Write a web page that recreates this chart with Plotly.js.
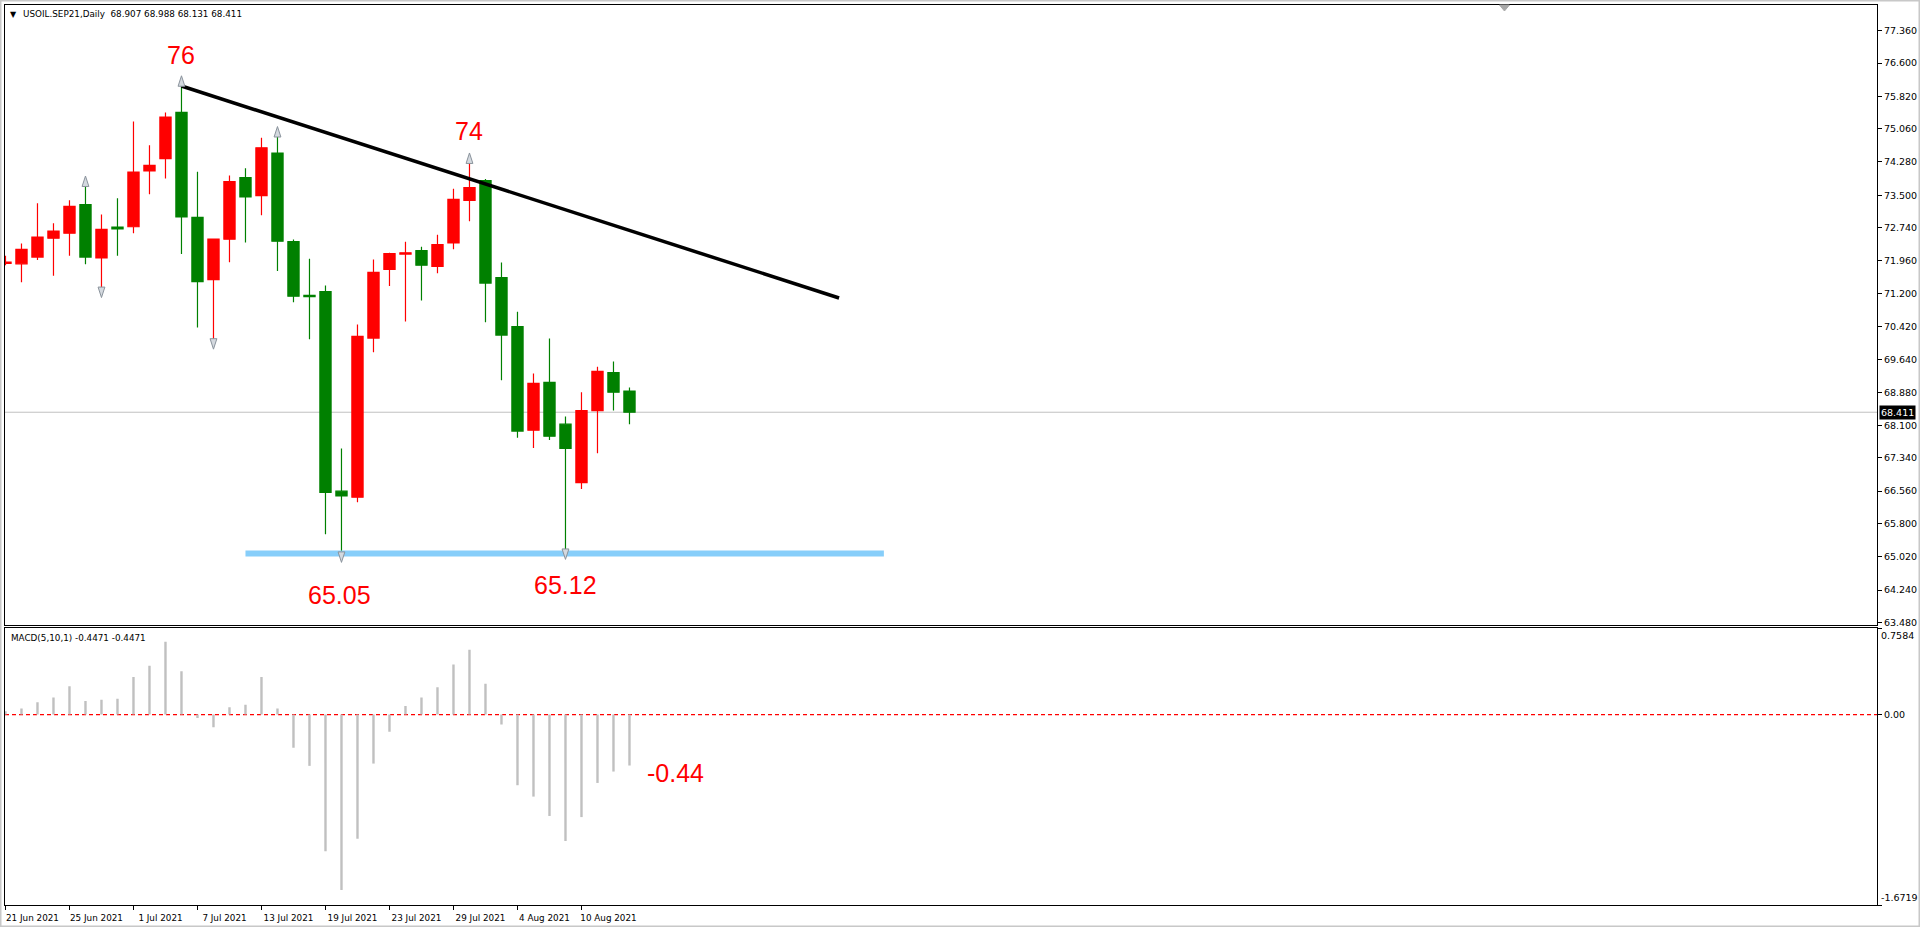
<!DOCTYPE html>
<html>
<head>
<meta charset="utf-8">
<script src="https://cdn.plot.ly/plotly-3.0.1.min.js"></script>
<style>
html,body{margin:0;padding:0;background:#ffffff;}
#chart{width:1920px;height:927px;}
</style>
</head>
<body>
<div id="chart"></div>
<script>
// ---------- data ----------
const dates = ['2021-06-21','2021-06-22','2021-06-23','2021-06-24','2021-06-25','2021-06-28','2021-06-29','2021-06-30',
  '2021-07-01','2021-07-02','2021-07-05','2021-07-06','2021-07-07','2021-07-08','2021-07-09','2021-07-12','2021-07-13',
  '2021-07-14','2021-07-15','2021-07-16','2021-07-19','2021-07-20','2021-07-21','2021-07-22','2021-07-23','2021-07-26',
  '2021-07-27','2021-07-28','2021-07-29','2021-07-30','2021-08-02','2021-08-03','2021-08-04','2021-08-05','2021-08-06',
  '2021-08-09','2021-08-10','2021-08-11','2021-08-12','2021-08-13'];
const opens  = [71.90,71.89,72.05,72.49,72.61,73.28,72.03,72.75,72.76,74.07,74.36,75.44,72.98,71.52,72.47,73.91,73.49,
  74.49,72.41,71.15,71.24,66.56,66.42,70.15,71.76,72.12,72.20,71.83,72.38,73.38,73.84,71.57,70.42,67.99,69.11,68.13,
  66.76,68.45,69.34,68.907];
const highs  = [72.08,72.37,73.31,72.84,73.38,73.71,73.05,73.43,75.23,74.67,75.44,76.06,74.05,72.48,73.96,74.13,74.85,
  74.87,72.46,72.01,71.38,67.56,70.47,71.99,72.15,72.41,72.29,72.57,73.65,74.25,73.88,71.92,70.77,69.32,70.14,68.31,
  68.88,69.48,69.60,68.988];
const lows   = [71.86,71.46,71.98,71.61,72.08,71.88,71.26,72.08,72.61,73.52,73.89,72.12,70.40,70.05,71.93,72.39,73.03,
  71.72,70.99,70.12,65.55,65.05,66.30,69.82,71.37,70.54,71.03,71.67,72.23,72.89,70.52,69.16,67.81,67.57,67.76,65.12,
  66.61,67.45,68.45,68.131];
const closes = [71.93,72.23,72.52,72.66,73.24,72.05,72.70,72.71,74.04,74.20,75.33,72.99,71.47,72.47,73.82,73.46,74.61,
  72.42,71.13,71.12,66.53,66.45,70.19,71.69,72.13,72.15,71.86,72.34,73.40,73.68,71.44,70.22,67.97,69.09,67.85,67.56,
  68.45,69.37,68.88,68.411];
const macd   = [0.03,0.054,0.108,0.15,0.25,0.12,0.13,0.14,0.33,0.43,0.64,0.38,-0.03,-0.11,0.065,0.086,0.33,0.054,-0.29,
  -0.45,-1.20,-1.54,-1.09,-0.43,-0.15,0.076,0.15,0.24,0.44,0.57,0.27,-0.086,-0.62,-0.72,-0.89,-1.11,-0.90,-0.60,-0.50,-0.4471];

const dateTickIndex  = [0,4,8,12,16,20,24,28,32,36];
const dateTickLabels = ['21 Jun 2021','25 Jun 2021','1 Jul 2021','7 Jul 2021','13 Jul 2021','19 Jul 2021',
  '23 Jul 2021','29 Jul 2021','4 Aug 2021','10 Aug 2021'];
const priceTicks = [77.36,76.6,75.82,75.06,74.28,73.5,72.74,71.96,71.2,70.42,69.64,68.88,68.1,67.34,66.56,65.8,65.02,64.24,63.48];
const macdMax = 0.7584, macdMin = -1.6719;

const trendX = [11, 52.1];
const trendY = [76.06, 71.09];
const supportX = [15.0, 54.9];
const supportY = [65.10, 65.10];
const fractalUpIdx = [5, 11, 17, 29];
const fractalDownIdx = [6, 13, 21, 35];
const lastPrice = 68.411;
const headerText = 'USOIL.SEP21,Daily  68.907 68.988 68.131 68.411';
const macdText = 'MACD(5,10,1) -0.4471 -0.4471';

// ---------- build ----------
const idx = dates.map((d, i) => i);
const axisFont = {family: 'DejaVu Sans, Tahoma, sans-serif', size: 9.5, color: '#000000'};
const smallFont = {family: 'DejaVu Sans, Tahoma, sans-serif', size: 8.8, color: '#000000'};
const redFont = {family: 'Liberation Sans, Arial, sans-serif', size: 25, color: '#ff0000'};

const traces = [
  {
    type: 'candlestick', x: idx, open: opens, high: highs, low: lows, close: closes,
    xaxis: 'x', yaxis: 'y', whiskerwidth: 0, hoverinfo: 'none', showlegend: false,
    increasing: {line: {color: '#ff0000', width: 1.2}, fillcolor: '#ff0000'},
    decreasing: {line: {color: '#008000', width: 1.2}, fillcolor: '#008000'}
  },
  {
    type: 'scatter', mode: 'lines', x: trendX, y: trendY, xaxis: 'x', yaxis: 'y',
    line: {color: '#000000', width: 3.5}, hoverinfo: 'none', showlegend: false
  },
  {
    type: 'scatter', mode: 'lines', x: supportX, y: supportY, xaxis: 'x', yaxis: 'y',
    line: {color: '#87cefa', width: 6}, hoverinfo: 'none', showlegend: false
  },
  {
    type: 'scatter', mode: 'markers', x: fractalUpIdx, y: fractalUpIdx.map(i => highs[i] + 0.24),
    xaxis: 'x', yaxis: 'y', hoverinfo: 'none', showlegend: false,
    marker: {symbol: 'arrow', angle: 0, size: 11, color: '#d4d9df', line: {color: '#8a939c', width: 1}}
  },
  {
    type: 'scatter', mode: 'markers', x: fractalDownIdx, y: fractalDownIdx.map(i => lows[i] - 0.16),
    xaxis: 'x', yaxis: 'y', hoverinfo: 'none', showlegend: false,
    marker: {symbol: 'arrow', angle: 180, size: 11, color: '#d4d9df', line: {color: '#8a939c', width: 1}}
  },
  {
    type: 'bar', x: idx, y: macd, xaxis: 'x2', yaxis: 'y2', width: 0.15,
    marker: {color: '#c0c0c0', line: {width: 0}}, hoverinfo: 'none', showlegend: false
  }
];

const xRange = [-0.03, 116.97];
const layout = {
  width: 1920, height: 927,
  margin: {l: 5, r: 43, t: 5, b: 22},
  paper_bgcolor: '#ffffff', plot_bgcolor: '#ffffff',
  showlegend: false,
  boxgap: 0.3, boxgroupgap: 0,
  xaxis: {
    domain: [0, 1], anchor: 'y', range: xRange, type: 'linear',
    showgrid: false, zeroline: false, showticklabels: false, ticks: '',
    showline: true, mirror: true, linecolor: '#000000', linewidth: 1,
    rangeslider: {visible: false}, fixedrange: true
  },
  yaxis: {
    domain: [0.3115, 1], anchor: 'x', side: 'right', range: [63.43, 77.96],
    tickvals: priceTicks, ticktext: priceTicks.map(v => v.toFixed(3)),
    ticks: 'outside', ticklen: 4, tickcolor: '#000000', tickfont: axisFont,
    showgrid: false, zeroline: false,
    showline: true, mirror: true, linecolor: '#000000', linewidth: 1, fixedrange: true
  },
  xaxis2: {
    domain: [0, 1], anchor: 'y2', range: xRange, type: 'linear',
    tickvals: dateTickIndex, ticktext: dateTickLabels,
    ticks: 'outside', ticklen: 4, tickcolor: '#000000', tickfont: smallFont,
    ticklabelshift: 27, ticklabelstandoff: 0,
    showgrid: false, zeroline: false,
    showline: true, mirror: true, linecolor: '#000000', linewidth: 1, fixedrange: true
  },
  yaxis2: {
    domain: [0, 0.3075], anchor: 'x2', side: 'right', range: [macdMin, macdMax],
    tickvals: [macdMax, 0, macdMin], ticktext: ['', '0.00', ''],
    ticks: 'outside', ticklen: 4, tickcolor: '#000000', tickfont: axisFont,
    showgrid: false, zeroline: false,
    showline: true, mirror: true, linecolor: '#000000', linewidth: 1, fixedrange: true
  },
  shapes: [
    {type: 'line', xref: 'x domain', yref: 'y', x0: 0, x1: 1, y0: lastPrice, y1: lastPrice,
     line: {color: '#c0c0c0', width: 1}, layer: 'below'},
    {type: 'line', xref: 'x2 domain', yref: 'y2', x0: 0, x1: 1, y0: 0, y1: 0,
     line: {color: '#ff0000', width: 1.2, dash: '4px,3px'}, layer: 'below'},
    {type: 'rect', xref: 'paper', yref: 'paper', x0: -5/1872, x1: 1915/1872, y0: -22/900, y1: 905/900,
     line: {color: '#c8c8c8', width: 3}, fillcolor: 'rgba(0,0,0,0)'},
    {type: 'path', xref: 'paper', yref: 'paper', xsizemode: 'pixel', ysizemode: 'pixel',
     xanchor: 0.801, yanchor: 1, path: 'M-5,0 L5,0 L0,-6 Z',
     fillcolor: '#a9a9a9', line: {color: '#a9a9a9', width: 1}}
  ],
  annotations: [
    {xref: 'paper', yref: 'paper', x: 0, y: 1, xshift: 3, yshift: -3, xanchor: 'left', yanchor: 'top',
     text: '▼', showarrow: false, font: {family: 'DejaVu Sans, sans-serif', size: 8, color: '#000000'}},
    {xref: 'paper', yref: 'paper', x: 0, y: 1, xshift: 16, yshift: -2, xanchor: 'left', yanchor: 'top',
     text: headerText, showarrow: false, font: smallFont},
    {xref: 'paper', yref: 'y2', x: 0, y: macdMax, xshift: 4, yshift: -3, xanchor: 'left', yanchor: 'top',
     text: macdText, showarrow: false, font: smallFont},
    {xref: 'paper', yref: 'y', x: 1, y: lastPrice, xshift: 2, xanchor: 'left', yanchor: 'middle',
     text: lastPrice.toFixed(3), showarrow: false, bgcolor: '#000000', borderpad: 1,
     font: {family: 'DejaVu Sans, Tahoma, sans-serif', size: 9.5, color: '#ffffff'}},
    {xref: 'paper', yref: 'y2', x: 1, y: macdMax, xshift: 2, xanchor: 'left', yanchor: 'top',
     text: macdMax.toFixed(4), showarrow: false, font: axisFont},
    {xref: 'paper', yref: 'y2', x: 1, y: macdMin, xshift: 2, xanchor: 'left', yanchor: 'bottom',
     text: macdMin.toFixed(4), showarrow: false, font: axisFont},
    {xref: 'x', yref: 'y', x: 11.0, y: 76.79, text: '76', showarrow: false, font: redFont},
    {xref: 'x', yref: 'y', x: 29.0, y: 75.01, text: '74', showarrow: false, font: redFont},
    {xref: 'x', yref: 'y', x: 20.9, y: 64.12, text: '65.05', showarrow: false, font: redFont},
    {xref: 'x', yref: 'y', x: 35.0, y: 64.35, text: '65.12', showarrow: false, font: redFont},
    {xref: 'x2', yref: 'y2', x: 41.9, y: -0.51, text: '-0.44', showarrow: false, font: redFont}
  ]
};

Plotly.newPlot('chart', traces, layout, {displayModeBar: false, staticPlot: true});
</script>
</body>
</html>
